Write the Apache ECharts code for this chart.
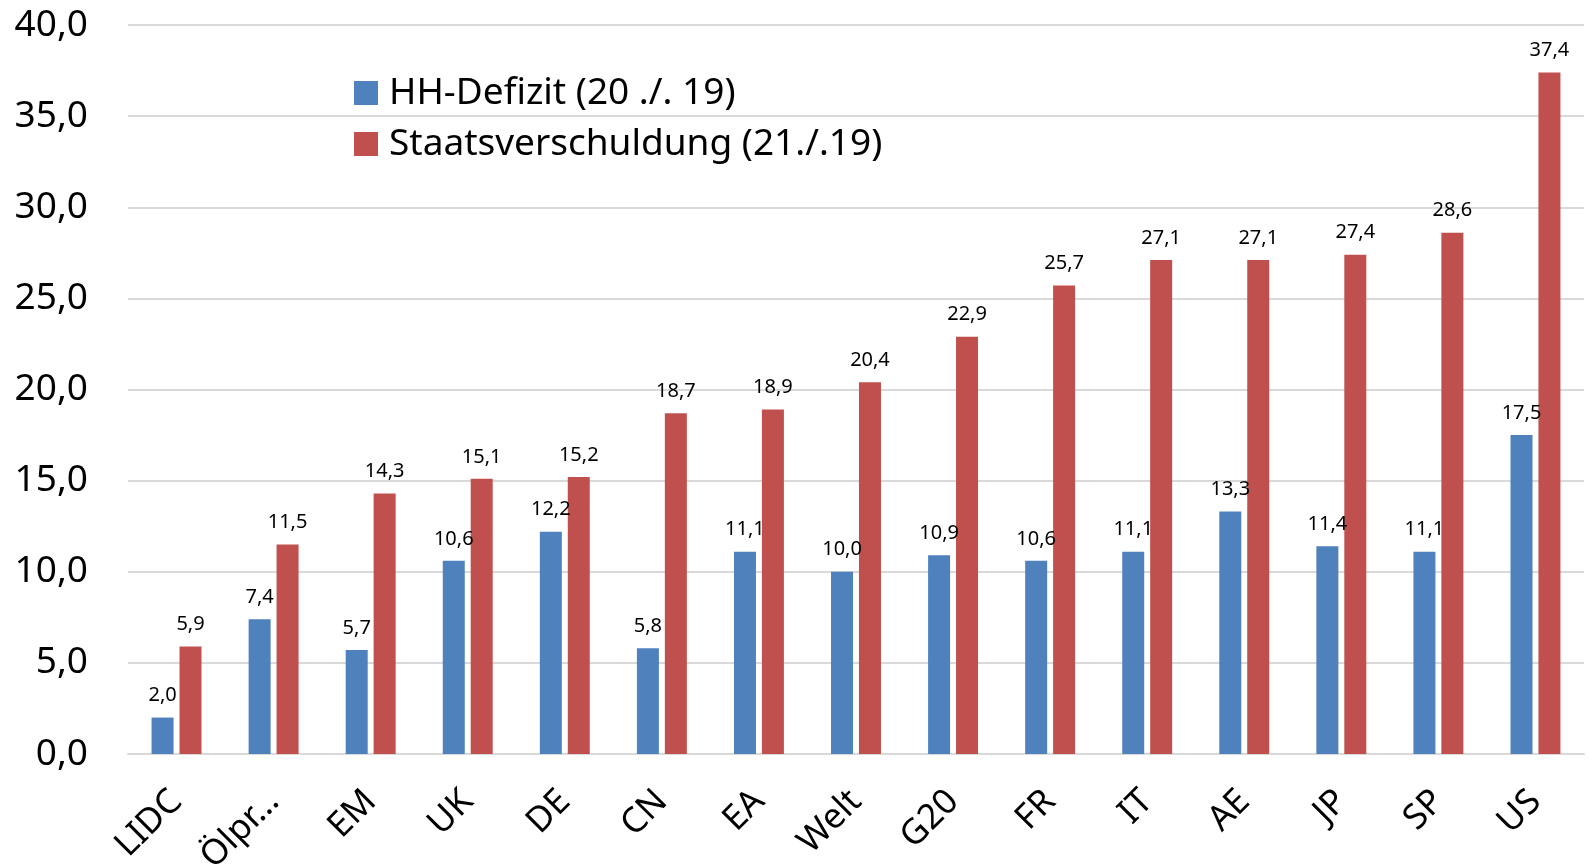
<!DOCTYPE html>
<html>
<head>
<meta charset="utf-8">
<script src="https://cdn.jsdelivr.net/npm/echarts@6/dist/echarts.min.js"></script>
<style>
  html, body { margin: 0; padding: 0; background: #fff; }
  #chart { width: 1590px; height: 864px; }
</style>
</head>
<body>
<div id="chart"></div>
<script>
const categories = ['LIDC', 'Ölpr…', 'EM', 'UK', 'DE', 'CN', 'EA', 'Welt', 'G20', 'FR', 'IT', 'AE', 'JP', 'SP', 'US']
const hhDefizit = [2.0, 7.4, 5.7, 10.6, 12.2, 5.8, 11.1, 10.0, 10.9, 10.6, 11.1, 13.3, 11.4, 11.1, 17.5]
const staatsverschuldung = [5.9, 11.5, 14.3, 15.1, 15.2, 18.7, 18.9, 20.4, 22.9, 25.7, 27.1, 27.1, 27.4, 28.6, 37.4]

const fmt = v => Number(v).toFixed(1).replace('.', ',')
const font = '"Noto Sans", sans-serif'

const chart = echarts.init(document.getElementById('chart'))

const labelStyle = {
  show: true,
  position: 'top',
  distance: 12,
  color: '#000',
  fontSize: 20,
  fontFamily: font,
  formatter: p => fmt(p.value)
}

const option = {
  animation: false,
  grid: { left: 128, right: 6, top: 25, bottom: 110, outerBoundsMode: 'none', containLabel: false },
  legend: {
    orient: 'vertical',
    left: 349,
    top: 68,
    itemWidth: 24,
    itemHeight: 24,
    itemGap: 11,
    icon: 'rect',
    textStyle: { fontSize: 37, fontFamily: font, color: '#000', lineHeight: 40, padding: [0, 0, 0, 6] },
    data: ['HH-Defizit (20 ./. 19)', 'Staatsverschuldung (21./.19)']
  },
  xAxis: {
    type: 'category',
    data: categories,
    axisLine: { lineStyle: { color: '#d9d9d9', width: 2 } },
    axisTick: { show: false },
    axisLabel: {
      rotate: 45,
      margin: 42,
      fontSize: 35,
      fontFamily: font,
      color: '#000',
      interval: 0
    }
  },
  yAxis: {
    type: 'value',
    min: 0,
    max: 40,
    interval: 5,
    axisLine: { show: false },
    axisTick: { show: false },
    splitLine: { lineStyle: { color: '#d9d9d9', width: 2 } },
    axisLabel: {
      margin: 40,
      fontSize: 37,
      fontFamily: font,
      color: '#000',
      formatter: v => fmt(v)
    }
  },
  series: [
    {
      name: 'HH-Defizit (20 ./. 19)',
      type: 'bar',
      data: hhDefizit,
      barWidth: 22,
      barGap: '27%',
      itemStyle: { color: '#4F81BD' },
      label: labelStyle
    },
    {
      name: 'Staatsverschuldung (21./.19)',
      type: 'bar',
      data: staatsverschuldung,
      barWidth: 22,
      barGap: '27%',
      itemStyle: { color: '#C0504D' },
      label: labelStyle
    }
  ]
}

chart.setOption(option)
</script>
</body>
</html>
